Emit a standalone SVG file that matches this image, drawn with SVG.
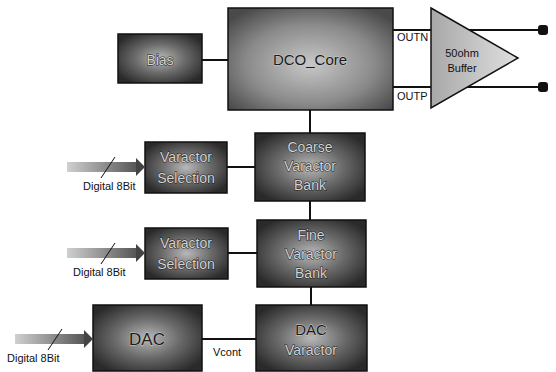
<svg xmlns="http://www.w3.org/2000/svg" width="556" height="372" viewBox="0 0 556 372">
<defs>
<radialGradient id="gBlk" cx="50%" cy="50%" r="60%">
<stop offset="0" stop-color="#b8b8b8"/>
<stop offset="0.5" stop-color="#6a6a6a"/>
<stop offset="1" stop-color="#2a2a2a"/>
</radialGradient>
<radialGradient id="gDco" cx="50%" cy="55%" r="65%">
<stop offset="0" stop-color="#c8c8c8"/>
<stop offset="0.6" stop-color="#8a8a8a"/>
<stop offset="1" stop-color="#4a4a4a"/>
</radialGradient>
<linearGradient id="gBuf" x1="0" y1="0" x2="1" y2="0">
<stop offset="0" stop-color="#a8a8a8"/>
<stop offset="1" stop-color="#e0e0e0"/>
</linearGradient>
<linearGradient id="gArr" x1="0" y1="0" x2="1" y2="0">
<stop offset="0" stop-color="#d0d0d0"/>
<stop offset="1" stop-color="#555"/>
</linearGradient>
<marker id="term" viewBox="0 0 10 10" refX="2" refY="5" markerWidth="10" markerHeight="10" markerUnits="userSpaceOnUse">
<rect x="0" y="0" width="10" height="10" rx="3" fill="#111"/>
</marker>
</defs>
<style>
.blk{stroke:#111;stroke-width:1.5}
.lbl{font-family:"Liberation Sans",Arial,sans-serif;text-anchor:middle;fill:#d4d4d4;stroke:#1a1a1a;stroke-width:0.9;paint-order:stroke}
.dark{font-family:"Liberation Sans",Arial,sans-serif;text-anchor:middle;fill:#1a1a1a;stroke:#d0d0d0;stroke-width:0.8;paint-order:stroke}
.plain{font-family:"Liberation Sans",Arial,sans-serif;fill:#111;font-size:11px}
.wire{stroke:#111;stroke-width:2;fill:none}
</style>
<rect width="556" height="372" fill="#fff"/>
<g id="connectors">
<line class="wire" x1="202" y1="60" x2="228" y2="60"/>
<line class="wire" x1="393" y1="30" x2="540" y2="30" marker-end="url(#term)"/>
<line class="wire" x1="393" y1="87" x2="540" y2="87" marker-end="url(#term)"/>
<line class="wire" x1="310" y1="110" x2="310" y2="133"/>
<line class="wire" x1="227" y1="167" x2="255" y2="167"/>
<line class="wire" x1="310" y1="201" x2="310" y2="220"/>
<line class="wire" x1="228" y1="253" x2="257" y2="253"/>
<line class="wire" x1="311" y1="287" x2="311" y2="305"/>
<line class="wire" x1="202" y1="339" x2="256" y2="339"/>
</g>
<g id="bias">
<rect class="blk" x="118" y="34" width="84" height="49" fill="url(#gBlk)"/>
<text class="lbl" x="160" y="65" font-size="14">Bias</text>
</g>
<g id="dco_core">
<rect class="blk" x="228" y="8" width="165" height="102" fill="url(#gDco)"/>
<text class="dark" x="310" y="65" font-size="15">DCO_Core</text>
</g>
<g id="buffer">
<polygon points="431,8 518,58 431,108" fill="url(#gBuf)" stroke="#111" stroke-width="1.5"/>
<text class="plain" x="462" y="57" text-anchor="middle">50ohm</text>
<text class="plain" x="462" y="72" text-anchor="middle">Buffer</text>
<text class="plain" x="397" y="41">OUTN</text>
<text class="plain" x="397" y="100">OUTP</text>
</g>
<g id="coarse_bank">
<rect class="blk" x="255" y="133" width="110" height="68" fill="url(#gBlk)"/>
<text class="lbl" x="310" y="152" font-size="14">Coarse</text>
<text class="lbl" x="310" y="171" font-size="14">Varactor</text>
<text class="lbl" x="310" y="190" font-size="14">Bank</text>
</g>
<g id="sel1">
<rect class="blk" x="145" y="142" width="82" height="51" fill="url(#gBlk)"/>
<text class="lbl" x="186" y="162" font-size="14">Varactor</text>
<text class="lbl" x="186" y="183" font-size="14">Selection</text>
</g>
<g id="fine_bank">
<rect class="blk" x="257" y="220" width="109" height="67" fill="url(#gBlk)"/>
<text class="lbl" x="311" y="240" font-size="14">Fine</text>
<text class="lbl" x="311" y="259" font-size="14">Varactor</text>
<text class="lbl" x="311" y="278" font-size="14">Bank</text>
</g>
<g id="sel2">
<rect class="blk" x="145" y="228" width="83" height="51" fill="url(#gBlk)"/>
<text class="lbl" x="186" y="248" font-size="14">Varactor</text>
<text class="lbl" x="186" y="269" font-size="14">Selection</text>
</g>
<g id="dac_varactor">
<rect class="blk" x="256" y="305" width="111" height="66" fill="url(#gBlk)"/>
<text class="dark" x="311" y="335" font-size="15">DAC</text>
<text class="lbl" x="311" y="355" font-size="14">Varactor</text>
</g>
<g id="dac">
<rect class="blk" x="93" y="305" width="109" height="66" fill="url(#gBlk)"/>
<text class="dark" x="147" y="345" font-size="17">DAC</text>
</g>
<g id="vcont">
<text class="plain" x="213" y="356">Vcont</text>
</g>
<g id="in1">
<rect x="67" y="162" width="70" height="10" fill="url(#gArr)"/>
<polygon points="136,158 145,167 136,176" fill="#444"/>
<line x1="115" y1="157" x2="101" y2="178" stroke="#111" stroke-width="1"/>
<text class="plain" x="83" y="190">Digital 8Bit</text>
</g>
<g id="in2">
<rect x="67" y="248" width="70" height="10" fill="url(#gArr)"/>
<polygon points="136,244 145,253 136,262" fill="#444"/>
<line x1="115" y1="243" x2="101" y2="264" stroke="#111" stroke-width="1"/>
<text class="plain" x="73" y="276">Digital 8Bit</text>
</g>
<g id="in3">
<rect x="15" y="334" width="70" height="10" fill="url(#gArr)"/>
<polygon points="84,330 93,339 84,348" fill="#444"/>
<line x1="62" y1="329" x2="48" y2="350" stroke="#111" stroke-width="1"/>
<text class="plain" x="7" y="362">Digital 8Bit</text>
</g>
</svg>
